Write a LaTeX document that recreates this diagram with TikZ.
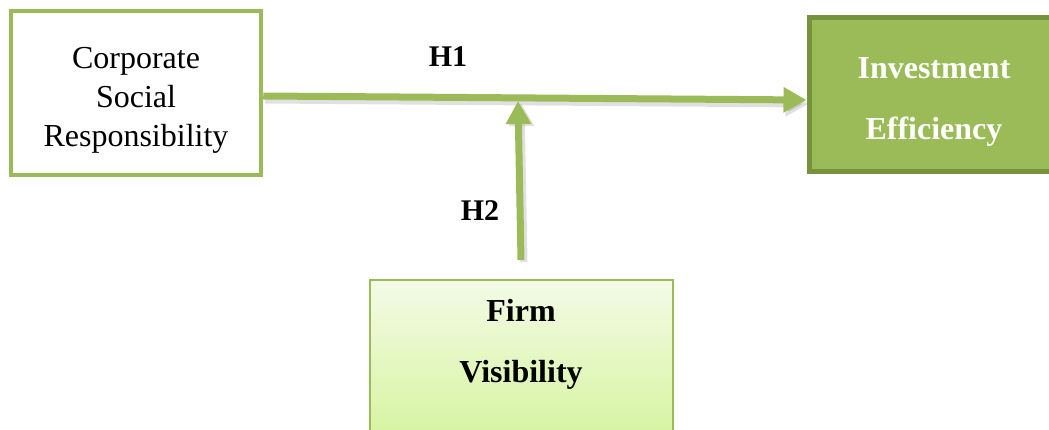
\documentclass[tikz,border=0pt]{standalone}
\usepackage{fontspec}
\setmainfont{Liberation Serif}
\usetikzlibrary{arrows.meta,positioning}
\definecolor{gr}{HTML}{9BBB59}
\definecolor{dkgr}{HTML}{76923C}
\definecolor{fvtop}{HTML}{F3FBE6}
\definecolor{fvbot}{HTML}{D6F4A0}
\tikzset{
  conn/.style={line width=7pt,draw=gr,-{Triangle[length=23pt,width=24pt]}},
  shad/.style={line width=7pt,draw=black,opacity=0.12,-{Triangle[length=23pt,width=24pt]}},
  lbl/.style={font=\fontsize{30}{36}\selectfont\bfseries,inner sep=0pt},
  txt/.style={align=center,inner sep=0pt},
}
\begin{document}
\begin{tikzpicture}[x=1pt,y=-1pt]
\useasboundingbox (0,0) rectangle (1049,430);
% boxes
\node[draw=gr,line width=4.5pt,fill=white,minimum width=250pt,minimum height=164pt,inner sep=0pt] (csr) at (136,93) {};
\node[txt,font=\fontsize{32}{39}\selectfont] (csrt) at (136,100) {Corporate\\Social\\Responsibility};
\node[draw=dkgr,fill=gr,line width=5pt,minimum width=250pt,minimum height=154pt,inner sep=0pt] (ie) at (934,95) {};
\node[txt,text=white,font=\fontsize{32}{61}\selectfont\bfseries] (iet) at (934,102) {Investment\\Efficiency};
\node[draw=gr,line width=2pt,top color=fvtop,bottom color=fvbot,minimum width=303pt,
      minimum height=156pt,inner sep=0pt] (fv) at (521.5,358) {};
\node[txt,font=\fontsize{32}{61}\selectfont\bfseries] (fvt) at (521,344.5) {Firm\\Visibility};
% connectors
\coordinate (m) at (518,101);
\coordinate (s) at (521,260);
\draw[shad] ([shift={(2,4)}]csr.east |- 0,96) -- ([shift={(2,4)}]ie.west |- 0,100);
\draw[shad] ([shift={(3,2)}]s) -- ([shift={(3,2)}]m);
\draw[conn] (csr.east |- 0,96) -- (ie.west |- 0,100);
\draw[conn] (s) -- (m);
% labels
\node[lbl] (h1) at (448,57) {H1};
\node[lbl] (h2) at (480,211) {H2};
\end{tikzpicture}
\end{document}
